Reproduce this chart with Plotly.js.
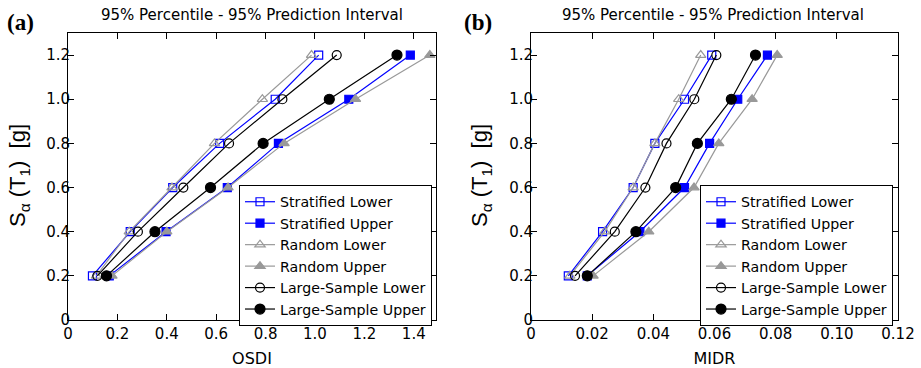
<!DOCTYPE html>
<html>
<head>
<meta charset="utf-8">
<script src="https://cdn.plot.ly/plotly-3.0.1.min.js"></script>
<style>html,body{margin:0;padding:0;background:#fff;}#chart{width:921px;height:368px;}</style>
</head>
<body>
<div id="chart"></div>
<script>
// Shared intensity levels Sa(T1) [g]
const saLevels = [0.2, 0.4, 0.6, 0.8, 1.0, 1.2];

// Panel (a): OSDI
const osdiStratLower  = [0.099, 0.252, 0.424, 0.614, 0.839, 1.015];
const osdiStratUpper  = [0.167, 0.397, 0.645, 0.852, 1.137, 1.386];
const osdiRandLower   = [0.115, 0.248, 0.421, 0.593, 0.787, 0.986];
const osdiRandUpper   = [0.178, 0.400, 0.648, 0.875, 1.164, 1.465];
const osdiLargeLower  = [0.119, 0.283, 0.467, 0.652, 0.868, 1.088];
const osdiLargeUpper  = [0.156, 0.352, 0.577, 0.790, 1.058, 1.332];

// Panel (b): MIDR
const midrStratLower  = [0.0122, 0.0234, 0.0334, 0.0405, 0.0502, 0.0591];
const midrStratUpper  = [0.0184, 0.0356, 0.0502, 0.0584, 0.0676, 0.0773];
const midrRandLower   = [0.0127, 0.0241, 0.0334, 0.0405, 0.0483, 0.0555];
const midrRandUpper   = [0.0203, 0.0385, 0.0533, 0.0614, 0.0723, 0.0805];
const midrLargeLower  = [0.0144, 0.0274, 0.0374, 0.0443, 0.0534, 0.0606];
const midrLargeUpper  = [0.0184, 0.0343, 0.0473, 0.0544, 0.0655, 0.0734];

const seriesNames = ["Stratified Lower", "Stratified Upper", "Random Lower",
                     "Random Upper", "Large-Sample Lower", "Large-Sample Upper"];

const yTickVals = [0, 0.2, 0.4, 0.6, 0.8, 1.0, 1.2];
const yTickText = ["0", "0.2", "0.4", "0.6", "0.8", "1.0", "1.2"];
const x1TickVals = [0, 0.2, 0.4, 0.6, 0.8, 1.0, 1.2, 1.4];
const x1TickText = ["0", "0.2", "0.4", "0.6", "0.8", "1.0", "1.2", "1.4"];
const x2TickVals = [0, 0.02, 0.04, 0.06, 0.08, 0.10, 0.12];
const x2TickText = ["0", "0.02", "0.04", "0.06", "0.08", "0.10", "0.12"];

const styles = [
  {color: "#0000ff", symbol: "square-open", size: 8},
  {color: "#0000ff", symbol: "square", size: 8},
  {color: "#999999", symbol: "triangle-up-open", size: 9},
  {color: "#999999", symbol: "triangle-up", size: 9},
  {color: "#000000", symbol: "circle-open", size: 9},
  {color: "#000000", symbol: "circle", size: 10}
];

const leftData = [osdiStratLower, osdiStratUpper, osdiRandLower, osdiRandUpper, osdiLargeLower, osdiLargeUpper];
const rightData = [midrStratLower, midrStratUpper, midrRandLower, midrRandUpper, midrLargeLower, midrLargeUpper];

const traces = [];
function addTraces(dataArr, xa, ya, lg) {
  dataArr.forEach((xs, i) => {
    traces.push({
      x: xs, y: saLevels, xaxis: xa, yaxis: ya, type: "scatter", mode: "lines+markers",
      name: seriesNames[i], legend: lg,
      line: {color: styles[i].color, width: 1.2},
      marker: {symbol: styles[i].symbol, size: styles[i].size, color: styles[i].color,
               line: {color: styles[i].color, width: 1.2}}
    });
  });
}
addTraces(leftData, "x", "y", "legend");
addTraces(rightData, "x2", "y2", "legend2");

const SANS = "DejaVu Sans, Verdana, sans-serif";
const NARROW = "Liberation Sans Narrow, Arial Narrow, Liberation Sans, sans-serif";
const tickFont = {family: SANS, size: 15, color: "#000"};
const baseAxis = {
  showline: true, linecolor: "#000", linewidth: 1, mirror: "ticks",
  ticks: "inside", ticklen: 6, tickcolor: "#000", tickwidth: 1,
  showgrid: false, zeroline: false, tickfont: tickFont, tickmode: "array"
};
const ydom = [48/368, 335/368];
const legendBase = {
  bgcolor: "#ffffff", bordercolor: "#000", borderwidth: 1,
  font: {family: SANS, size: 14.2, color: "#000"},
  xanchor: "left", yanchor: "top", tracegroupgap: 0, itemwidth: 30
};
const yTitleText = "S<sub>α</sub> (T<sub>1</sub>)  [g]";
const yTitleFont = {family: NARROW, size: 22, color: "#000"};

const layout = {
  width: 921, height: 368,
  margin: {l: 0, r: 0, t: 0, b: 0},
  paper_bgcolor: "#fff", plot_bgcolor: "#fff",
  showlegend: true,
  xaxis: Object.assign({}, baseAxis, {
    domain: [68/921, 436/921], range: [0, 1.49], anchor: "y",
    tickvals: x1TickVals, ticktext: x1TickText,
    title: {text: "OSDI", font: {family: SANS, size: 16, color: "#000"}, standoff: 10}
  }),
  yaxis: Object.assign({}, baseAxis, {
    domain: ydom, range: [0, 1.3], anchor: "x",
    tickvals: yTickVals, ticktext: yTickText, ticklabelstandoff: -6
  }),
  xaxis2: Object.assign({}, baseAxis, {
    domain: [531/921, 898/921], range: [0, 0.12], anchor: "y2",
    tickvals: x2TickVals, ticktext: x2TickText,
    title: {text: "MIDR", font: {family: SANS, size: 16, color: "#000"}, standoff: 10}
  }),
  yaxis2: Object.assign({}, baseAxis, {
    domain: ydom, range: [0, 1.3], anchor: "x2",
    tickvals: yTickVals, ticktext: yTickText, ticklabelstandoff: -6
  }),
  legend: Object.assign({}, legendBase, {x: 239/921, y: (368-185)/368}),
  legend2: Object.assign({}, legendBase, {x: 700/921, y: (368-185)/368}),
  annotations: [
    {text: yTitleText, xref: "paper", yref: "paper", textangle: -90,
     x: 19/921, y: (368-176)/368, xanchor: "center", yanchor: "middle", showarrow: false,
     font: yTitleFont},
    {text: yTitleText, xref: "paper", yref: "paper", textangle: -90,
     x: 481/921, y: (368-176)/368, xanchor: "center", yanchor: "middle", showarrow: false,
     font: yTitleFont},
    {text: "95% Percentile - 95% Prediction Interval", xref: "paper", yref: "paper",
     x: 252/921, y: (368-15)/368, xanchor: "center", yanchor: "middle", showarrow: false,
     font: {family: SANS, size: 15, color: "#000"}},
    {text: "95% Percentile - 95% Prediction Interval", xref: "paper", yref: "paper",
     x: 713/921, y: (368-15)/368, xanchor: "center", yanchor: "middle", showarrow: false,
     font: {family: SANS, size: 15, color: "#000"}},
    {text: "<b>(a)</b>", xref: "paper", yref: "paper",
     x: 20/921, y: (368-22)/368, xanchor: "center", yanchor: "middle", showarrow: false,
     font: {family: "Liberation Serif, Times New Roman, serif", size: 23, color: "#000"}},
    {text: "<b>(b)</b>", xref: "paper", yref: "paper",
     x: 478/921, y: (368-22)/368, xanchor: "center", yanchor: "middle", showarrow: false,
     font: {family: "Liberation Serif, Times New Roman, serif", size: 23, color: "#000"}}
  ]
};

Plotly.newPlot("chart", traces, layout, {staticPlot: true, displayModeBar: false});
</script>
</body>
</html>
